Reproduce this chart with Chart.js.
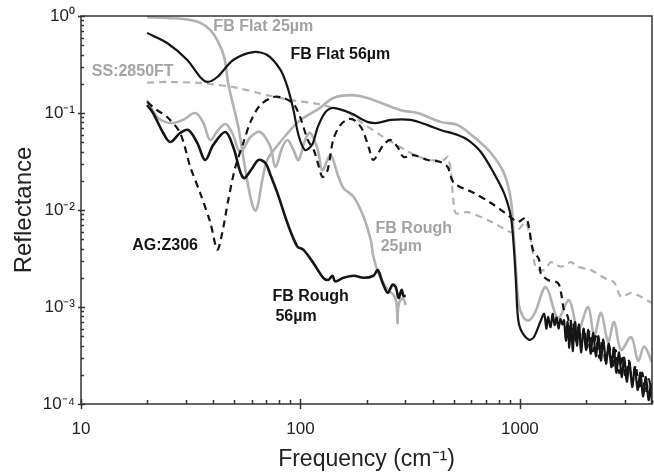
<!DOCTYPE html>
<html>
<head>
<meta charset="utf-8">
<script src="https://cdn.jsdelivr.net/npm/chart.js@4.4.0/dist/chart.umd.min.js"></script>
<style>
	html, body { margin: 0; padding: 0; background: #fff; }
</style>
</head>
<body>
<canvas id="myChart" width="654" height="474"></canvas>
<script>
	'use strict';

	// FB Flat 25um (light grey solid)
	var flat25Freq = [20,25.5,31.5,35,38.8,42.2,45,46.9,49.4,52.1,54.9,57.9,60.4,62.4,64.3,67,70.6,76.9,90,100,123,141,169,202,286,342,435,521,617,738,846,910,940,960,990,1042,1099,1170,1314,1491,1675,1841,2046,2180,2344,2524,2687,2891,3214,3459,3683,4000];
	var flat25R = [0.97,0.95,0.91,0.85,0.72,0.54,0.37,0.20,0.12,0.072,0.035,0.0173,0.0113,0.0098,0.0118,0.0204,0.0328,0.0436,0.0668,0.0847,0.113,0.143,0.153,0.143,0.107,0.1,0.081,0.075,0.0566,0.0387,0.024,0.0127,0.0049,0.0024,0.00105,0.00077,0.00073,0.00087,0.0016,0.00077,0.00118,0.00058,0.001,0.00051,0.00087,0.00044,0.0007,0.00036,0.00049,0.00028,0.00039,0.00027];

	// FB Flat 56um (black solid), noisy above ~1200
	var flat56Freq = [20,24.7,30.5,34.9,37.6,41.8,49.4,61,70.6,81.1,87.3,93,98,105,113,120,130,141,169,202,225,258,318,380,435,521,579,664,761,846,910,940,960,979,1011,1099,1159,1247,1290,1320,1343,1380,1410,1440,1470,1500,1530,1560,1588,1620,1650,1680,1710,1740,1782,1820,1860,1900,1950,2000,2050,2100,2160,2220,2280,2340,2400,2470,2540,2610,2680,2750,2830,2910,2990,3070,3160,3250,3340,3440,3540,3640,3750,3860,3950,4000];
	var flat56R = [0.67,0.527,0.352,0.235,0.209,0.235,0.352,0.425,0.396,0.278,0.185,0.107,0.059,0.0415,0.047,0.072,0.102,0.113,0.1,0.081,0.079,0.085,0.085,0.075,0.0668,0.0593,0.0527,0.0396,0.024,0.015,0.0085,0.0039,0.00177,0.00079,0.00058,0.00046,0.00049,0.00073,0.00085,0.0006,0.00079,0.00062,0.00085,0.00065,0.00078,0.0006,0.00075,0.00066,0.00073,0.00045,0.0007,0.00038,0.00072,0.00035,0.0007,0.0004,0.00066,0.00034,0.0006,0.00036,0.00058,0.00033,0.00054,0.00031,0.0005,0.00028,0.00046,0.00026,0.00042,0.00024,0.00038,0.00021,0.00034,0.00019,0.0003,0.00017,0.00027,0.00015,0.00024,0.00014,0.00021,0.00012,0.00019,0.00011,0.00016,0.0001];

	// SS:2850FT (grey dashed)
	var ssFreq = [20,24.7,34.9,49.4,70.6,90,120,164,188,239,318,380,450,469,484,494,510,579,714,818,910,979,1064,1122,1183,1288,1386,1540,1710,1841,2110,2420,2687,2891,3214,3573,4000];
	var ssR = [0.205,0.209,0.204,0.185,0.153,0.136,0.124,0.102,0.081,0.0566,0.0387,0.0328,0.0328,0.0354,0.0258,0.015,0.0093,0.0095,0.0079,0.0067,0.0059,0.0062,0.0075,0.0049,0.0025,0.0024,0.0029,0.0026,0.0029,0.0026,0.0024,0.002,0.0018,0.00127,0.0014,0.00127,0.0011];

	// AG:Z306 (black dashed), noisy above ~1600
	var agFreq = [20,22.2,24.7,28.3,31.5,34.9,38.8,41.8,44,46.9,50.5,54.9,59.2,65.6,75.3,83.6,93,100,108,115,120,126,133,141,152,166,178,192,205,215,239,258,277,295,328,380,435,469,500,617,738,846,940,979,1064,1099,1146,1222,1247,1343,1491,1540,1588,1655,1700,1750,1800,1850,1900,1960,2020,2080,2150,2220,2300,2380,2460,2550,2640,2730,2830,2930,3030,3140,3250,3370,3490,3610,3740,3870,4000];
	var agR = [0.13,0.107,0.091,0.0622,0.0277,0.015,0.0075,0.0039,0.0058,0.0127,0.0277,0.049,0.081,0.121,0.146,0.143,0.124,0.089,0.0527,0.0415,0.0305,0.0219,0.0258,0.0527,0.075,0.0867,0.083,0.0668,0.0436,0.0328,0.047,0.0527,0.0446,0.0352,0.0368,0.0328,0.0313,0.0277,0.019,0.015,0.0118,0.0095,0.0079,0.0075,0.0083,0.0067,0.0039,0.0031,0.0022,0.0019,0.00177,0.0014,0.00093,0.00079,0.0005,0.00068,0.00045,0.00062,0.0004,0.0006,0.00038,0.00055,0.00035,0.0005,0.0003,0.00046,0.00027,0.0004,0.00024,0.00036,0.00021,0.00032,0.00019,0.00028,0.00016,0.00025,0.00014,0.00021,0.00013,0.00018,0.00011];

	// FB Rough 25um (light grey solid)
	var rough25Freq = [20,22.2,24.2,26.3,29.2,33.2,36.1,38.8,42.2,45.5,48.9,53.2,59.2,65.6,73,76.9,82.8,87.3,93,98,105,111,120,126,137,148,157,175,194,209,215,227,239,250,266,274,277,280,292,302];
	var rough25R = [0.136,0.091,0.081,0.079,0.085,0.1,0.079,0.0527,0.0668,0.077,0.0622,0.0396,0.0566,0.0637,0.0446,0.0277,0.0446,0.0527,0.0415,0.0328,0.0527,0.0622,0.0415,0.0258,0.0369,0.023,0.0169,0.0136,0.0085,0.0049,0.0033,0.0022,0.00177,0.0015,0.00133,0.0011,0.00068,0.00105,0.00124,0.00105];

	// FB Rough 56um (black solid)
	var rough56Freq = [20,21.3,23.7,25.5,28.3,30.8,33.9,36.8,40.1,45.5,49.4,54.9,60.4,64.3,69.2,73,78.5,87.3,96.8,103,115,127,134,140,144,157,175,194,215,225,237,250,263,272,280,289,295,302];
	var rough56R = [0.121,0.1,0.0622,0.0502,0.0622,0.0668,0.049,0.0328,0.047,0.0637,0.0446,0.0214,0.0271,0.0328,0.0305,0.023,0.015,0.0073,0.0042,0.0039,0.0028,0.002,0.0019,0.0021,0.00184,0.002,0.0021,0.002,0.0021,0.0024,0.00177,0.0014,0.0017,0.0016,0.00124,0.0015,0.0013,0.0013];

	var xTickLabels = [10, 100, 1000];
	var yTickExps = [-4, -3, -2, -1, 0];

	// curve labels, anchored at (frequency, reflectance) of their left edge
	var labelText = ['FB Flat 25µm', 'FB Flat 56µm', 'SS:2850FT', 'AG:Z306', 'FB Rough', '25µm', 'FB Rough', '56µm'];
	var labelFreq = [40.1, 90, 11.2, 17.1, 220, 232, 74.5, 76.9];
	var labelR = [0.77, 0.396, 0.265, 0.00425, 0.0064, 0.00415, 0.00127, 0.00079];
	var labelGrey = [true, false, true, false, true, true, false, false];

	var BLACK = '#151515';
	var GREY = '#b2b2b2';
	var GREY_TEXT = '#a3a3a3';
	var FONT = '"Liberation Sans", Arial, Helvetica, sans-serif';

	function pairs(xs, ys){
		var out = [];
		for (var i = 0; i < xs.length; i++) {
			out.push({x: xs[i], y: ys[i]});
		}
		return out;
	}

	function isDecade(v){
		var l = Math.log10(v);
		return Math.abs(l - Math.round(l)) < 1e-6;
	}

	var sup = {'0':'⁰','1':'¹','2':'²','3':'³','4':'⁴','-':'⁻'};
	function superscript(n){
		return String(n).split('').map(function(c){ return sup[c]; }).join('');
	}

	// frame + inward tick marks, and the curve labels
	var framePlugin = {
		id: 'frame',
		afterDraw: function(chart){
			var ctx = chart.ctx, a = chart.chartArea;
			var xs = chart.scales.x, ys = chart.scales.y;
			ctx.save();
			ctx.strokeStyle = '#333';
			ctx.lineWidth = 1.5;
			ctx.strokeRect(a.left, a.top, a.right - a.left, a.bottom - a.top);

			ctx.beginPath();
			for (var e = 1; e <= 3; e++) {
				for (var k = 1; k < 10; k++) {
					var v = k * Math.pow(10, e);
					if (v > xs.max) continue;
					var px = Math.round(xs.getPixelForValue(v)) + 0.5;
					if (k === 1) { ctx.moveTo(px, a.bottom + 5); ctx.lineTo(px, a.bottom - 5); }
					else { ctx.moveTo(px, a.bottom); ctx.lineTo(px, a.bottom - 4); }
				}
			}
			for (var e2 = -4; e2 <= 0; e2++) {
				for (var k2 = 1; k2 < 10; k2++) {
					var v2 = k2 * Math.pow(10, e2);
					if (v2 > ys.max * 1.0001) continue;
					var py = Math.round(ys.getPixelForValue(v2)) + 0.5;
					if (k2 === 1) { ctx.moveTo(a.left - 3, py); ctx.lineTo(a.left + 4, py); }
					else { ctx.moveTo(a.left, py); ctx.lineTo(a.left + 3, py); }
				}
			}
			ctx.stroke();

			ctx.font = 'bold 16px ' + FONT;
			ctx.textAlign = 'left';
			ctx.textBaseline = 'middle';
			for (var i = 0; i < labelText.length; i++) {
				ctx.fillStyle = labelGrey[i] ? GREY_TEXT : BLACK;
				ctx.fillText(labelText[i], xs.getPixelForValue(labelFreq[i]), ys.getPixelForValue(labelR[i]));
			}
			ctx.restore();
		}
	};

	function line(data, color, width, dashed, tension){
		return {
			data: data,
			showLine: true,
			borderColor: color,
			borderWidth: width,
			borderDash: dashed ? [7, 5] : [],
			pointRadius: 0,
			tension: tension,
			fill: false
		};
	}

	var ctx = document.getElementById('myChart').getContext('2d');
	var myChart = new Chart(ctx, {
		type: 'scatter',
		data: {
			datasets: [
				line(pairs(flat56Freq, flat56R), BLACK, 2.2, false, 0.3),
				line(pairs(rough56Freq, rough56R), BLACK, 2.6, false, 0.35),
				line(pairs(agFreq, agR), BLACK, 2.2, true, 0.3),
				line(pairs(flat25Freq, flat25R), GREY, 2.6, false, 0.35),
				line(pairs(rough25Freq, rough25R), GREY, 2.6, false, 0.35),
				line(pairs(ssFreq, ssR), GREY, 2.2, true, 0.2)
			]
		},
		options: {
			responsive: false,
			animation: false,
			events: [],
			layout: { padding: { top: 16, right: 2, left: 0, bottom: 0 } },
			plugins: { legend: { display: false }, tooltip: { enabled: false } },
			scales: {
				x: {
					type: 'logarithmic',
					min: 10,
					max: 4000,
					grid: { display: false, drawTicks: false },
					border: { display: false },
					ticks: {
						autoSkip: false,
						maxRotation: 0,
						padding: 15,
						color: '#222',
						font: { family: FONT, size: 17 },
						callback: function(v){
							return (isDecade(v) && xTickLabels.indexOf(Math.round(v)) >= 0) ? String(Math.round(v)) : '';
						}
					},
					title: {
						display: true,
						text: 'Frequency (cm⁻¹)',
						color: '#222',
						font: { family: FONT, size: 23 },
						padding: { top: 0, bottom: 1 }
					},
					afterFit: function(s){
						s.height = 70;
						s.paddingLeft = 0;
						s.paddingRight = 0;
					}
				},
				y: {
					type: 'logarithmic',
					min: 1e-4,
					max: 1,
					grid: { display: false, drawTicks: false },
					border: { display: false },
					ticks: {
						autoSkip: false,
						padding: 6,
						color: '#222',
						font: { family: FONT, size: 17 },
						callback: function(v){
							if (!isDecade(v)) return '';
							var e = Math.round(Math.log10(v));
							if (yTickExps.indexOf(e) < 0) return '';
							return '10' + superscript(e);
						}
					},
					title: {
						display: true,
						text: 'Reflectance',
						color: '#222',
						font: { family: FONT, size: 24 },
						padding: { top: 10, bottom: 0 }
					},
					afterFit: function(s){
						s.width = 81;
						s.paddingTop = 0;
						s.paddingBottom = 0;
					}
				}
			}
		},
		plugins: [framePlugin]
	});
</script>
</body>
</html>
